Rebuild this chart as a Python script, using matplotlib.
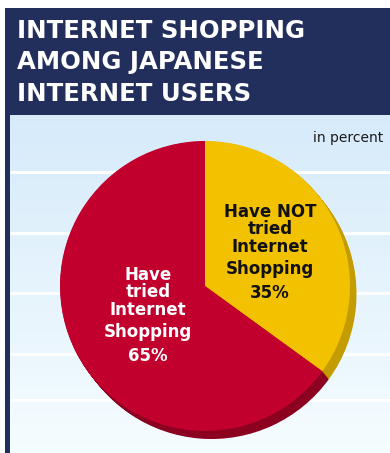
import numpy as np
import matplotlib
matplotlib.use("Agg")
import matplotlib.pyplot as plt
from matplotlib.patches import Rectangle

# Survey shares (percent)
categories = ["Have NOT\ntried\nInternet\nShopping", "Have\ntried\nInternet\nShopping"]
shares = [35, 65]
face_colors = ["#f2c200", "#c1002d"]
side_colors = ["#c29c00", "#8c0020"]
label_colors = ["#111111", "#ffffff"]

title_lines = ["INTERNET SHOPPING", "AMONG JAPANESE", "INTERNET USERS"]
unit_note = "in percent"

W, H, DPI = 390, 453, 100
fig = plt.figure(figsize=(W / DPI, H / DPI), dpi=DPI)
fig.patch.set_facecolor("white")

# Background canvas in pixel coordinates
bg = fig.add_axes([0, 0, 1, 1])
bg.axis("off")

navy = "#222e5c"
bg.add_patch(Rectangle((5, 8), W - 5, H - 8, facecolor=navy, edgecolor="none"))

# light gradient panel
grad = np.linspace(0, 1, 256)[:, None]
top = np.array([0.84, 0.92, 0.98])
bottom = np.array([0.96, 0.99, 1.0])
img = top[None, None, :] * (1 - grad[..., None]) + bottom[None, None, :] * grad[..., None]
bg.imshow(img, extent=(9.5, W, H, 115), aspect="auto", zorder=1)
bg.set_xlim(0, W)
bg.set_ylim(H, 0)

for y in [172, 233, 293, 354, 400]:
    bg.plot([9.5, W], [y, y], color="white", lw=2.2, zorder=2, solid_capstyle="butt")

for i, line in enumerate(title_lines):
    bg.text(17, 31 + 31.5 * i, line, color="white", fontsize=17.6, fontweight="bold",
            family="DejaVu Sans", va="center", ha="left", zorder=3)
bg.text(383, 138, unit_note, color="#1a1a1a", fontsize=10, family="DejaVu Sans",
        va="center", ha="right", zorder=3)

# Pie
cx, cy, r = 205, 286, 145
ax = fig.add_axes([(cx - r) / W, (H - cy - r) / H, 2 * r / W, 2 * r / H])
ax.axis("off")

dx, dy = 6.5 / r, 8 / r
for k in np.linspace(1, 0.05, 12):
    wedges, _ = ax.pie(shares, colors=side_colors, startangle=90, counterclock=False,
                       center=(dx * k, -dy * k), radius=1, frame=False,
                       wedgeprops=dict(linewidth=0))
    for w in wedges:
        w.set_clip_on(False)
wedges, _ = ax.pie(shares, colors=face_colors, startangle=90, counterclock=False,
                   center=(0, 0), radius=1, frame=False, wedgeprops=dict(linewidth=0))
for w in wedges:
    w.set_clip_on(False)
ax.set_xlim(-1, 1)
ax.set_ylim(-1, 1)
ax.set_aspect("equal")

# Labels on a transparent overlay in pixel coordinates
ov = fig.add_axes([0, 0, 1, 1])
ov.set_xlim(0, W)
ov.set_ylim(H, 0)
ov.axis("off")
ov.patch.set_alpha(0)
label_x = [270, 148]
label_top = [212, 275]
line_offsets = [0, 17.3, 34.6, 57, 81]
for name, val, col, lx, ly in zip(categories, shares, label_colors, label_x, label_top):
    lines = name.split("\n") + [f"{val}%"]
    for off, txt in zip(line_offsets, lines):
        ov.text(lx, ly + off, txt, color=col, fontsize=12, fontweight="bold",
                family="DejaVu Sans", ha="center", va="center")

fig.savefig("out.png", dpi=DPI, facecolor=fig.get_facecolor())
